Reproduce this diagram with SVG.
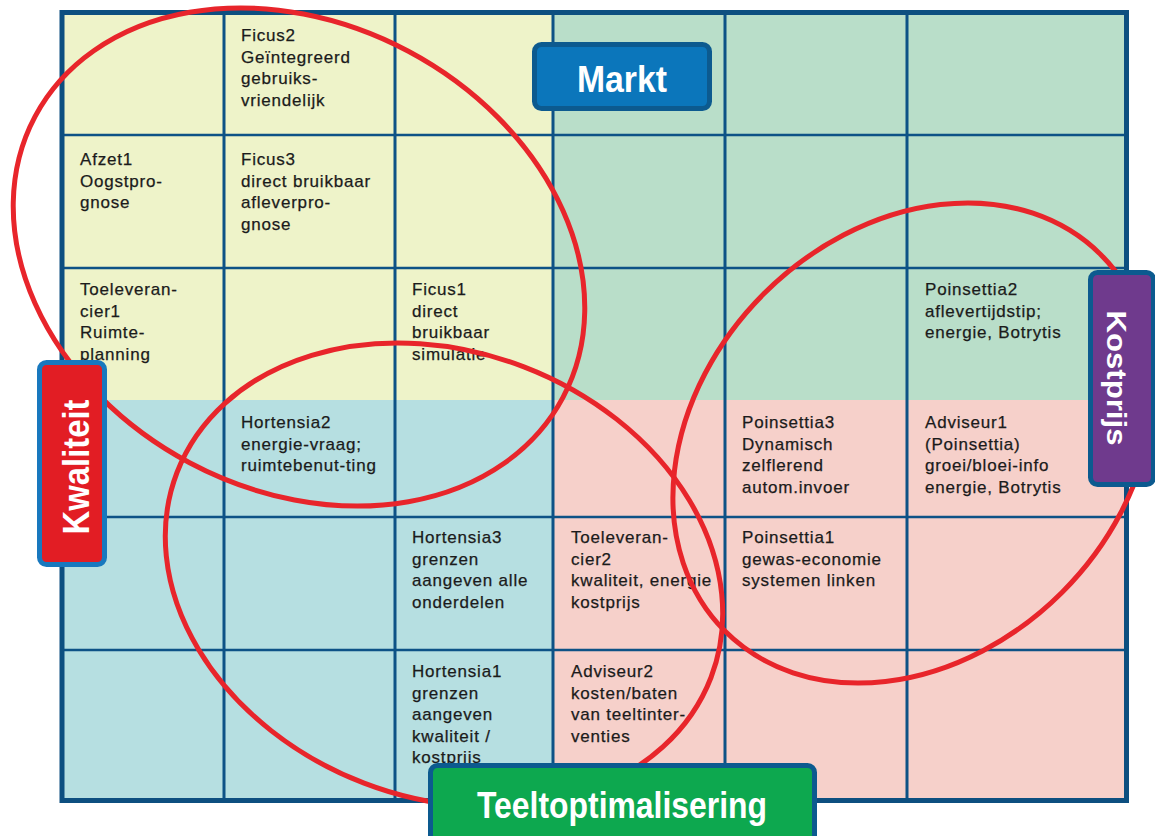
<svg xmlns="http://www.w3.org/2000/svg" width="1155" height="836" viewBox="0 0 1155 836">
<style>
.cell{font-family:"Liberation Sans",Arial,sans-serif;font-size:17px;letter-spacing:0.8px;fill:#1b1b1b;stroke:#1b1b1b;stroke-width:0.25}
.vl{stroke:#0d5286;stroke-width:3}
.hl{stroke:#0d5286;stroke-width:2.5}
.ring{fill:none;stroke:#e8252b;stroke-width:5}
.lab{font-family:"Liberation Sans",Arial,sans-serif;font-weight:bold;fill:#ffffff;text-anchor:middle}
.box{stroke:#0c5a8f;stroke-width:5}
</style>
<rect width="1155" height="836" fill="#ffffff"/>
<g id="quadrants">
<rect x="62" y="12" width="491" height="388" fill="#eef3c9"/>
<rect x="553" y="12" width="574" height="388" fill="#b9dec9"/>
<rect x="62" y="400" width="491" height="400" fill="#b6dfe1"/>
<rect x="553" y="400" width="574" height="400" fill="#f6d0ca"/>
</g>
<g id="grid">
<line class="vl" x1="224" y1="12" x2="224" y2="800"/>
<line class="vl" x1="395" y1="12" x2="395" y2="800"/>
<line class="vl" x1="553" y1="12" x2="553" y2="800"/>
<line class="vl" x1="725" y1="12" x2="725" y2="800"/>
<line class="vl" x1="907" y1="12" x2="907" y2="800"/>
<line class="hl" x1="62" y1="135" x2="1127" y2="135"/>
<line class="hl" x1="62" y1="268" x2="1127" y2="268"/>
<line class="hl" x1="62" y1="517" x2="1127" y2="517"/>
<line class="hl" x1="62" y1="650" x2="1127" y2="650"/>
<rect x="62" y="12.5" width="1064.5" height="788" fill="none" stroke="#0d4f80" stroke-width="5"/>
</g>
<g id="cell-ficus2" class="cell"><text x="241" y="41">Ficus2</text><text x="241" y="62.5">Geïntegreerd</text><text x="241" y="84">gebruiks-</text><text x="241" y="105.5">vriendelijk</text></g>
<g id="cell-afzet1" class="cell"><text x="80" y="165">Afzet1</text><text x="80" y="186.5">Oogstpro-</text><text x="80" y="208">gnose</text></g>
<g id="cell-ficus3" class="cell"><text x="241" y="165">Ficus3</text><text x="241" y="186.5">direct bruikbaar</text><text x="241" y="208">afleverpro-</text><text x="241" y="229.5">gnose</text></g>
<g id="cell-toeleverancier1" class="cell"><text x="80" y="295">Toeleveran-</text><text x="80" y="316.5">cier1</text><text x="80" y="338">Ruimte-</text><text x="80" y="359.5">planning</text></g>
<g id="cell-ficus1" class="cell"><text x="412" y="295">Ficus1</text><text x="412" y="316.5">direct</text><text x="412" y="338">bruikbaar</text><text x="412" y="359.5">simulatie</text></g>
<g id="cell-poinsettia2" class="cell"><text x="925" y="295">Poinsettia2</text><text x="925" y="316.5">aflevertijdstip;</text><text x="925" y="338">energie, Botrytis</text></g>
<g id="cell-hortensia2" class="cell"><text x="241" y="428">Hortensia2</text><text x="241" y="449.5">energie-vraag;</text><text x="241" y="471">ruimtebenut-ting</text></g>
<g id="cell-poinsettia3" class="cell"><text x="742" y="428">Poinsettia3</text><text x="742" y="449.5">Dynamisch</text><text x="742" y="471">zelflerend</text><text x="742" y="492.5">autom.invoer</text></g>
<g id="cell-adviseur1" class="cell"><text x="925" y="428">Adviseur1</text><text x="925" y="449.5">(Poinsettia)</text><text x="925" y="471">groei/bloei-info</text><text x="925" y="492.5">energie, Botrytis</text></g>
<g id="cell-hortensia3" class="cell"><text x="412" y="543">Hortensia3</text><text x="412" y="564.5">grenzen</text><text x="412" y="586">aangeven alle</text><text x="412" y="607.5">onderdelen</text></g>
<g id="cell-toeleverancier2" class="cell"><text x="571" y="543">Toeleveran-</text><text x="571" y="564.5">cier2</text><text x="571" y="586">kwaliteit, energie</text><text x="571" y="607.5">kostprijs</text></g>
<g id="cell-poinsettia1" class="cell"><text x="742" y="543">Poinsettia1</text><text x="742" y="564.5">gewas-economie</text><text x="742" y="586">systemen linken</text></g>
<g id="cell-hortensia1" class="cell"><text x="412" y="677">Hortensia1</text><text x="412" y="698.5">grenzen</text><text x="412" y="720">aangeven</text><text x="412" y="741.5">kwaliteit /</text><text x="412" y="763">kostprijs</text></g>
<g id="cell-adviseur2" class="cell"><text x="571" y="677">Adviseur2</text><text x="571" y="698.5">kosten/baten</text><text x="571" y="720">van teeltinter-</text><text x="571" y="741.5">venties</text></g>
<g id="ellipses">
<ellipse class="ring" cx="299" cy="257" rx="299" ry="233" transform="rotate(28 299 257)"/>
<ellipse class="ring" cx="444" cy="575" rx="286" ry="223" transform="rotate(21 444 575)"/>
<ellipse class="ring" cx="913" cy="443" rx="266" ry="211" transform="rotate(-45 913 443)"/>
</g>
<g id="label-markt">
<rect class="box" x="534.5" y="44.5" width="175" height="64" rx="7" fill="#0b76bb"/>
<text class="lab" x="622" y="92" font-size="36" textLength="90" lengthAdjust="spacingAndGlyphs">Markt</text>
</g>
<g id="label-kostprijs">
<rect class="box" x="1090.5" y="272.5" width="63" height="212" rx="7" fill="#6f3a8d"/>
<text class="lab" transform="translate(1107 378) rotate(90)" x="0" y="0" font-size="28" textLength="135" lengthAdjust="spacingAndGlyphs">Kostprijs</text>
</g>
<g id="label-kwaliteit">
<rect x="39.5" y="362.5" width="65" height="202" rx="7" fill="#e21d24" stroke="#1878be" stroke-width="5"/>
<text class="lab" transform="translate(89 467) rotate(-90)" x="0" y="0" font-size="36" textLength="135" lengthAdjust="spacingAndGlyphs">Kwaliteit</text>
</g>
<g id="label-teeltoptimalisering">
<rect class="box" x="430.5" y="765.5" width="384" height="82" rx="7" fill="#0da84f"/>
<text class="lab" x="622" y="818" font-size="36" textLength="290" lengthAdjust="spacingAndGlyphs">Teeltoptimalisering</text>
</g>
</svg>
